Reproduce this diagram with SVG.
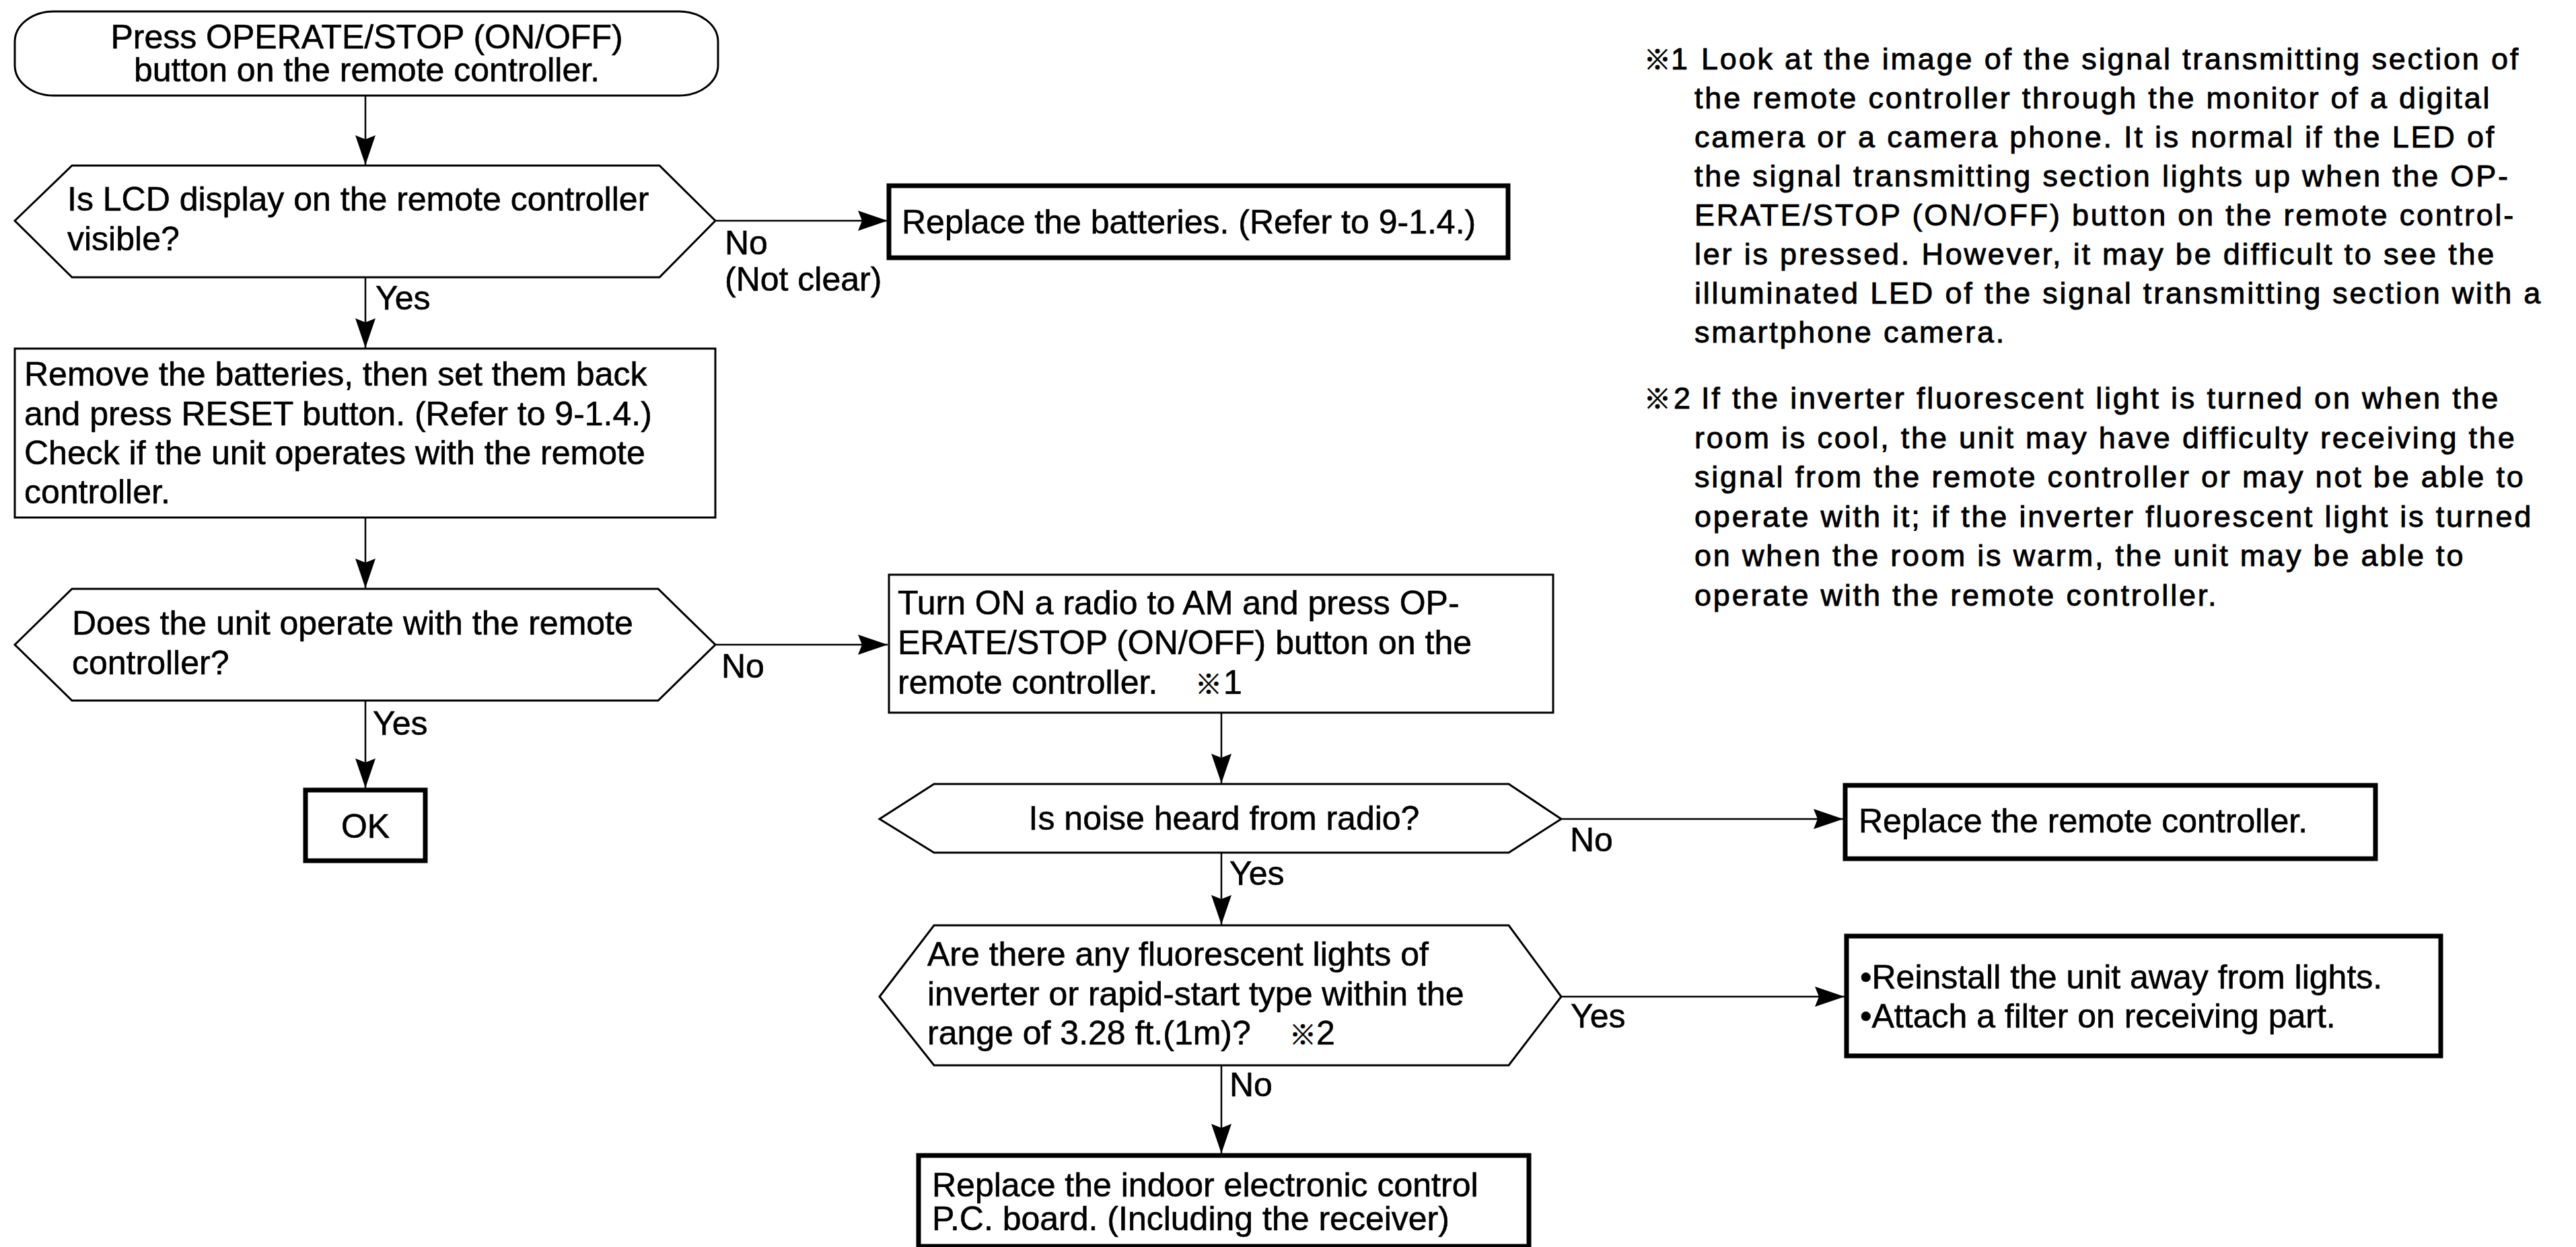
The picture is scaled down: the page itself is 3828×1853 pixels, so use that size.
<svg xmlns="http://www.w3.org/2000/svg" width="3828" height="1853" viewBox="0 0 3828 1853">
<style>
text{font-family:"Liberation Sans",Arial,"Noto Sans CJK JP",sans-serif;fill:#000;stroke:#000;stroke-width:0.6;}
.t{font-size:50px;}
.n{font-size:45px;letter-spacing:2.8px;stroke-width:0.9;}
.k{font-size:40px;}
.thin{fill:#fff;stroke:#000;stroke-width:3;}
.thick{fill:#fff;stroke:#000;stroke-width:7;}
.c{fill:none;stroke:#000;stroke-width:2.5;marker-end:url(#ah);}
</style>
<defs>
<marker id="ah" markerUnits="userSpaceOnUse" markerWidth="46" markerHeight="32" refX="44" refY="15" orient="auto">
<path d="M0,0 L44,15 L0,30 L6,15 z" fill="#000"/>
</marker>
</defs>
<rect width="3828" height="1853" fill="#fff"/>
<g id="connectors">
<path class="c" d="M543,142 V245"/>
<path class="c" d="M1063,328 H1319"/>
<path class="c" d="M543,412 V517"/>
<path class="c" d="M543,769 V874"/>
<path class="c" d="M1063,958 H1319"/>
<path class="c" d="M543,1041 V1171"/>
<path class="c" d="M1815,1059 V1164"/>
<path class="c" d="M2320,1217 H2739"/>
<path class="c" d="M1815,1267 V1374"/>
<path class="c" d="M2320,1481 H2741"/>
<path class="c" d="M1815,1583 V1714"/>
<text class="t" x="1077" y="378">No</text>
<text class="t" x="1077" y="432">(Not clear)</text>
<text class="t" x="558" y="460">Yes</text>
<text class="t" x="1072" y="1007">No</text>
<text class="t" x="554" y="1092">Yes</text>
<text class="t" x="2333" y="1265">No</text>
<text class="t" x="1827" y="1315">Yes</text>
<text class="t" x="2334" y="1527">Yes</text>
<text class="t" x="1827" y="1629">No</text>
</g>
<g id="start">
<rect class="thin" x="22" y="17" width="1045" height="125" rx="58" ry="45"/>
<text class="t" x="545" y="72" text-anchor="middle">Press OPERATE/STOP (ON/OFF)</text>
<text class="t" x="545" y="121" text-anchor="middle">button on the remote controller.</text>
</g>
<g id="q-lcd">
<polygon class="thin" points="22,328 107,246 980,246 1063,328 980,412 107,412"/>
<text class="t" x="100" y="313">Is LCD display on the remote controller</text>
<text class="t" x="100" y="372">visible?</text>
</g>
<g id="replace-batteries">
<rect class="thick" x="1321" y="276" width="920" height="107"/>
<text class="t" x="1340" y="347">Replace the batteries. (Refer to 9-1.4.)</text>
</g>
<g id="reset">
<rect class="thin" x="22" y="518" width="1041" height="251"/>
<text class="t" x="36" y="573">Remove the batteries, then set them back</text>
<text class="t" x="36" y="632">and press RESET button. (Refer to 9-1.4.)</text>
<text class="t" x="36" y="690">Check if the unit operates with the remote</text>
<text class="t" x="36" y="748">controller.</text>
</g>
<g id="q-operate">
<polygon class="thin" points="22,958 107,875 978,875 1063,958 978,1041 107,1041"/>
<text class="t" x="107" y="943">Does the unit operate with the remote</text>
<text class="t" x="107" y="1002">controller?</text>
</g>
<g id="ok">
<rect class="thick" x="454" y="1174" width="178" height="105"/>
<text class="t" x="543" y="1245" text-anchor="middle">OK</text>
</g>
<g id="radio">
<rect class="thin" x="1321" y="854" width="987" height="205"/>
<text class="t" x="1334" y="913">Turn ON a radio to AM and press OP-</text>
<text class="t" x="1334" y="972">ERATE/STOP (ON/OFF) button on the</text>
<text class="t" x="1334" y="1031">remote controller.<tspan class="k" x="1776">※</tspan><tspan x="1818">1</tspan></text>
</g>
<g id="q-noise">
<polygon class="thin" points="1307,1217 1388,1165 2242,1165 2320,1217 2242,1267 1388,1267"/>
<text class="t" x="1819" y="1233" text-anchor="middle">Is noise heard from radio?</text>
</g>
<g id="replace-remote">
<rect class="thick" x="2742" y="1167" width="788" height="109"/>
<text class="t" x="2762" y="1237">Replace the remote controller.</text>
</g>
<g id="q-fluorescent">
<polygon class="thin" points="1307,1481 1388,1375 2242,1375 2320,1481 2242,1583 1388,1583"/>
<text class="t" x="1378" y="1435">Are there any fluorescent lights of</text>
<text class="t" x="1378" y="1494">inverter or rapid-start type within the</text>
<text class="t" x="1378" y="1552">range of 3.28 ft.(1m)?<tspan class="k" x="1916">※</tspan><tspan x="1956">2</tspan></text>
</g>
<g id="reinstall">
<rect class="thick" x="2744" y="1391" width="883" height="178"/>
<text class="t" x="2764" y="1469">•Reinstall the unit away from lights.</text>
<text class="t" x="2764" y="1527">•Attach a filter on receiving part.</text>
</g>
<g id="replace-pcb">
<rect class="thick" x="1365" y="1717" width="907" height="135"/>
<text class="t" x="1385" y="1778">Replace the indoor electronic control</text>
<text class="t" x="1385" y="1828">P.C. board. (Including the receiver)</text>
</g>
<g id="notes">
<text class="n" x="2443" y="103"><tspan class="k">※</tspan><tspan x="2483">1</tspan><tspan x="2528">Look at the image of the signal transmitting section of</tspan></text>
<text class="n" x="2518" y="161">the remote controller through the monitor of a digital</text>
<text class="n" x="2518" y="219">camera or a camera phone. It is normal if the LED of</text>
<text class="n" x="2518" y="277">the signal transmitting section lights up when the OP-</text>
<text class="n" x="2518" y="335">ERATE/STOP (ON/OFF) button on the remote control-</text>
<text class="n" x="2518" y="393">ler is pressed. However, it may be difficult to see the</text>
<text class="n" x="2518" y="451">illuminated LED of the signal transmitting section with a</text>
<text class="n" x="2518" y="509">smartphone camera.</text>
<text class="n" x="2443" y="607"><tspan class="k">※</tspan><tspan x="2487">2</tspan><tspan x="2528">If the inverter fluorescent light is turned on when the</tspan></text>
<text class="n" x="2518" y="666">room is cool, the unit may have difficulty receiving the</text>
<text class="n" x="2518" y="724">signal from the remote controller or may not be able to</text>
<text class="n" x="2518" y="783">operate with it; if the inverter fluorescent light is turned</text>
<text class="n" x="2518" y="841">on when the room is warm, the unit may be able to</text>
<text class="n" x="2518" y="900">operate with the remote controller.</text>
</g>
</svg>
